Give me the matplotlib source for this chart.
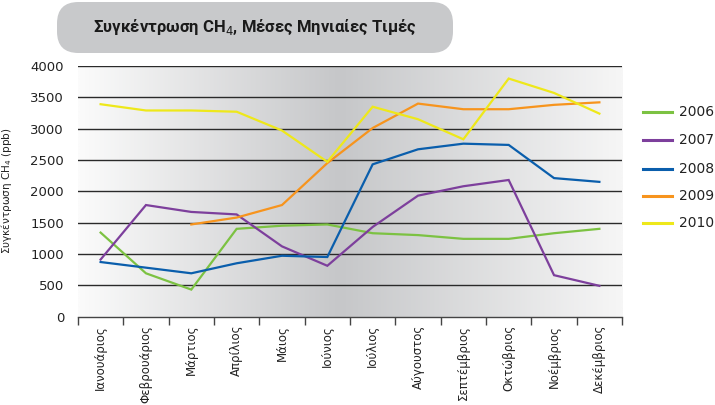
import numpy as np
import matplotlib
matplotlib.use('Agg')
import matplotlib.pyplot as plt
from matplotlib.patches import FancyBboxPatch
from matplotlib.colors import LinearSegmentedColormap

# ==========================================
# DATA
# ==========================================
months = ['Ιανουάριος', 'Φεβρουάριος', 'Μάρτιος', 'Απρίλιος', 'Μάιος', 'Ιούνιος',
          'Ιούλιος', 'Αύγουστος', 'Σεπτέμβριος', 'Οκτώβριος', 'Νοέμβριος', 'Δεκέμβριος']

y2006 = [1340, 690, 430, 1400, 1450, 1470, 1330, 1300, 1240, 1240, 1330, 1400]
y2007 = [910, 1780, 1670, 1630, 1120, 810, 1430, 1930, 2080, 2180, 660, 490]
y2008 = [870, 780, 690, 850, 970, 950, 2430, 2670, 2760, 2740, 2210, 2150]
y2009 = [np.nan, np.nan, 1470, 1580, 1780, 2450, 3010, 3400, 3310, 3310, 3380, 3420]
y2010 = [3390, 3290, 3290, 3270, 2970, 2470, 3350, 3150, 2830, 3800, 3570, 3240]

years = ['2006', '2007', '2008', '2009', '2010']
series = [y2006, y2007, y2008, y2009, y2010]
colors = ['#7cc242', '#7d3f9c', '#0a5eac', '#f7941d', '#eee81a']

yticks = np.arange(0, 4001, 500)

# ==========================================
# FIGURE
# ==========================================
fig = plt.figure(figsize=(7.15, 4.05), dpi=100, facecolor='white')
ax = fig.add_axes([0.109, 0.2185, 0.761, 0.6185])

# horizontal gradient background: light -> grey (around June/July) -> light
cmap = LinearSegmentedColormap.from_list(
    'bg', [(0.0, '#fbfbfb'), (0.48, '#c6c7c9'), (1.0, '#f6f6f6')])
grad = np.linspace(0, 1, 400).reshape(1, -1)
ax.imshow(grad, cmap=cmap, aspect='auto', extent=[0, 1, 0, 1],
          transform=ax.transAxes, zorder=0, interpolation='bilinear')

x = np.arange(len(months))
for vals, col, yr in zip(series, colors, years):
    ax.plot(x, vals, color=col, lw=1.6, zorder=3, label=yr, solid_joinstyle='miter')

ax.set_xlim(-0.5, len(months) - 0.5)
ax.set_ylim(0, 4000)

# grid lines
for v in yticks[1:]:
    ax.axhline(v, color='#2a2a2a', lw=1.0, zorder=2)

ax.set_yticks(yticks)
ax.set_yticklabels([str(v) for v in yticks], fontsize=9.5, color='#222222')
ax.tick_params(axis='y', length=0, pad=10)

ax.set_xticks(x)
ax.set_xticklabels(months, rotation=90, fontsize=8.5, color='#222222', va='top')
ax.tick_params(axis='x', length=0, pad=6)
# boundary ticks under the axis
ax.set_xticks(np.arange(-0.5, len(months)), minor=True)
ax.tick_params(axis='x', which='minor', length=6, width=1, color='#444444', direction='out')

for s in ['top', 'right', 'left']:
    ax.spines[s].set_visible(False)
ax.spines['bottom'].set_color('#444444')
ax.spines['bottom'].set_linewidth(1.0)

ax.set_ylabel('Συγκέντρωση CH$_4$ (ppb)', fontsize=7.5, color='#222222', labelpad=12)

# ==========================================
# TITLE BOX
# ==========================================
box = FancyBboxPatch((57 / 715, 1 - 53 / 405), (453 - 57) / 715, 51 / 405,
                     boxstyle='round,pad=0,rounding_size=0.03',
                     transform=fig.transFigure, facecolor='#c8c9cb',
                     edgecolor='none', mutation_aspect=715 / 405)
fig.patches.append(box)
fig.text(255 / 715, 1 - 27 / 405, 'Συγκέντρωση CH$_4$, Μέσες Μηνιαίες Τιμές',
         ha='center', va='center', fontsize=12, fontweight='bold',
         color='#1a1a1a', family=['Roboto', 'DejaVu Sans'])

# ==========================================
# LEGEND (manual, slightly clipped at right edge like the reference)
# ==========================================
leg_y = [112, 140, 169, 196, 223]
for yr, col, ly in zip(years, colors, leg_y):
    fy = 1 - ly / 405
    fig.add_artist(plt.Line2D([643 / 715, 672 / 715], [fy, fy], color=col, lw=2.2,
                              transform=fig.transFigure))
    fig.text(679 / 715, fy, yr, ha='left', va='center', fontsize=10, color='#222222')

plt.savefig('out.png', dpi=100)
